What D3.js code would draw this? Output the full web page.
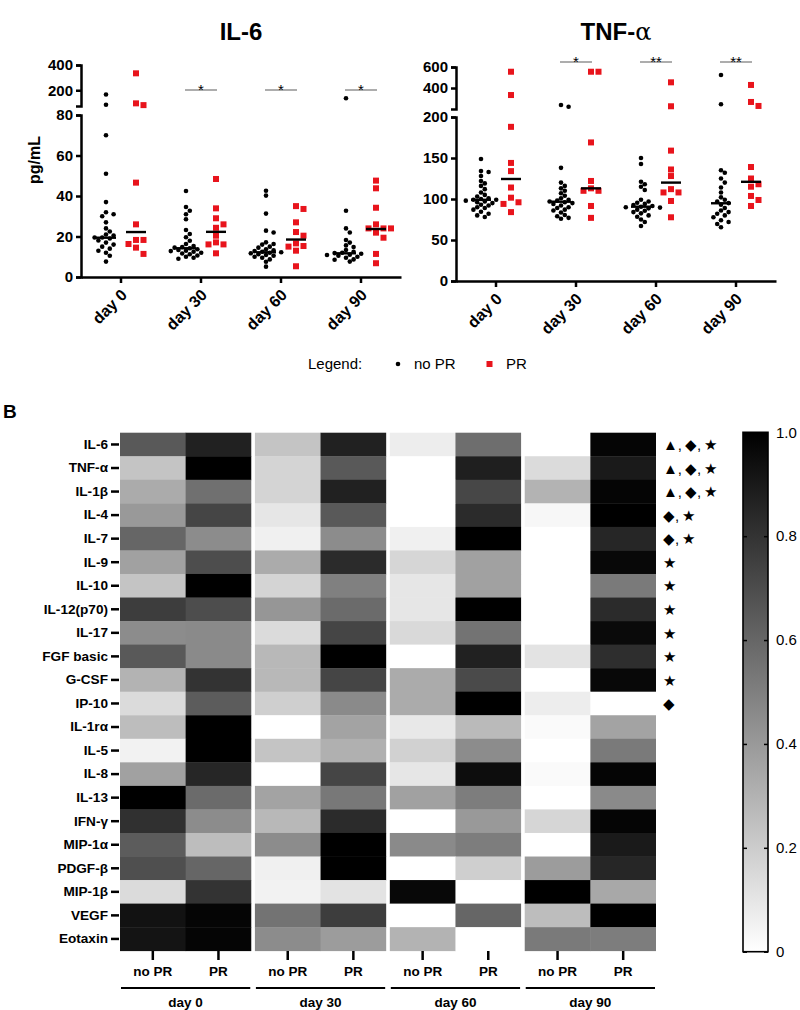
<!DOCTYPE html>
<html><head><meta charset="utf-8">
<script src="https://cdn.jsdelivr.net/npm/d3@7"></script>
<style>body{margin:0;background:#fff} svg{display:block} text{font-family:"Liberation Sans",Arial,sans-serif}</style>
</head><body><svg id="c" width="800" height="1010"></svg>
<script>
// ---------- DATA ----------
const days = ["day 0", "day 30", "day 60", "day 90"];
const groups = ["no PR", "PR"];

// IL-6 (pg/mL)
const il6NoPR = [
  [166, 85, 70, 51, 37, 32, 31, 30, 27, 24, 22.5, 21, 20.5, 19.5, 19.5, 19, 18, 17, 16, 15, 14, 13, 12, 10.5, 7.6],
  [42.5, 34.6, 32.7, 31, 28.5, 23.2, 21.2, 19.6, 17.9, 16.3, 15.3, 14.8, 14.5, 14.2, 13.7, 13.3, 13, 12.8, 12.5, 12, 11.6, 11.2, 10.6, 10, 9.5, 9],
  [42.6, 40.2, 31.3, 22.9, 22, 17.1, 16.3, 16, 15, 14.5, 13.7, 13.2, 12.8, 12.5, 12.2, 12, 11.7, 11.2, 10.9, 10.5, 10, 9.5, 8.7, 7.5, 5.1],
  [136, 32.7, 24, 22, 18.3, 17, 15.6, 14.8, 13.3, 12.5, 12, 11.8, 11.5, 11, 10.9, 10.5, 10, 9.5, 8.7, 8.5, 7.6]
];
const il6PR = [
  [334, 96, 82, 46.6, 26, 18.3, 18.3, 16.3, 14.5, 11.4],
  [48.4, 33.9, 29, 26, 24.3, 20.4, 17.1, 16.1, 16.1, 11.7],
  [35, 33.6, 27, 22.2, 20.4, 16.6, 15.3, 15, 13, 5.3],
  [47.6, 43.8, 34.2, 26, 24, 24, 24, 21.9, 19.4, 11.4, 6.8]
];
const il6MedNoPR = [19.4, 14.2, 12.2, 11.7];
const il6MedPR = [22.2, 22.3, 18.5, 23.7];
const il6Sig = ["", "*", "*", "*"];
const il6LowTicks = [0, 20, 40, 60, 80];
const il6HighTicks = [200, 400];

// TNF-α (pg/mL)
const tnfNoPR = [
  [148.8, 134, 133, 128, 122, 119, 116, 112, 108, 105, 103, 101, 100, 99, 99, 98, 97, 96, 95, 93, 92, 90, 89, 87, 84.5, 82, 80, 78],
  [238, 222, 138, 120, 116, 113, 110, 107, 104, 101, 99, 98, 97, 96, 95, 94, 92, 90, 89, 87, 86, 83.5, 80.5, 79, 77, 76],
  [150, 142.7, 121, 118, 115, 111, 99, 97, 95.5, 94, 92.7, 91.5, 90.6, 90, 89.5, 88.6, 87, 85.7, 84, 82.5, 80, 78.4, 75, 72, 67],
  [524, 245, 135, 132, 125, 120, 114, 108, 102, 99, 97, 95, 93, 89, 86, 84, 82, 80, 77.7, 74, 72, 69.5, 65.5]
];
const tnfPR = [
  [555, 333, 188, 144, 134, 114, 101.6, 96, 94, 84],
  [555, 555, 169, 122, 113, 110, 110, 91.5, 77],
  [454, 226, 159, 136, 128, 112, 108, 108, 97.6, 77.7],
  [429, 267, 229, 139, 125, 118, 115, 103.7, 98.8, 91.5]
];
const tnfMedNoPR = [99, 96.7, 90.6, 94.8];
const tnfMedPR = [124.4, 113, 120, 121];
const tnfSig = ["", "*", "**", "**"];
const tnfLowTicks = [0, 50, 100, 150, 200];
const tnfHighTicks = [400, 600];

// Heatmap (normalised 0..1), columns: d0 noPR, d0 PR, d30 noPR, d30 PR, d60 noPR, d60 PR, d90 noPR, d90 PR
const cytokines = ["IL-6", "TNF-α", "IL-1β", "IL-4", "IL-7", "IL-9", "IL-10", "IL-12(p70)", "IL-17", "FGF basic", "G-CSF", "IP-10",
  "IL-1rα", "IL-5", "IL-8", "IL-13", "IFN-γ", "MIP-1α", "PDGF-β", "MIP-1β", "VEGF", "Eotaxin"];
const heatValues = [
  [0.65, 0.87, 0.23, 0.87, 0.07, 0.57, 0.00, 0.98],
  [0.23, 1.00, 0.17, 0.65, 0.00, 0.88, 0.14, 0.90],
  [0.33, 0.56, 0.17, 0.87, 0.00, 0.72, 0.30, 0.98],
  [0.40, 0.73, 0.10, 0.65, 0.00, 0.83, 0.03, 1.00],
  [0.60, 0.45, 0.06, 0.45, 0.06, 1.00, 0.00, 0.85],
  [0.37, 0.70, 0.33, 0.83, 0.16, 0.37, 0.00, 0.97],
  [0.23, 1.00, 0.17, 0.50, 0.10, 0.37, 0.00, 0.52],
  [0.76, 0.70, 0.41, 0.58, 0.10, 1.00, 0.00, 0.83],
  [0.45, 0.46, 0.14, 0.73, 0.15, 0.55, 0.00, 0.96],
  [0.65, 0.46, 0.28, 1.00, 0.00, 0.87, 0.11, 0.82],
  [0.30, 0.80, 0.28, 0.73, 0.33, 0.71, 0.00, 0.97],
  [0.14, 0.64, 0.19, 0.46, 0.33, 1.00, 0.07, 0.00],
  [0.26, 1.00, 0.00, 0.36, 0.09, 0.27, 0.02, 0.36],
  [0.05, 1.00, 0.23, 0.31, 0.18, 0.45, 0.00, 0.52],
  [0.37, 0.85, 0.00, 0.73, 0.10, 0.95, 0.02, 0.98],
  [1.00, 0.58, 0.36, 0.53, 0.37, 0.51, 0.00, 0.46],
  [0.81, 0.45, 0.28, 0.83, 0.00, 0.40, 0.16, 0.98],
  [0.64, 0.26, 0.45, 1.00, 0.46, 0.51, 0.00, 0.90],
  [0.69, 0.60, 0.06, 1.00, 0.00, 0.19, 0.39, 0.85],
  [0.14, 0.80, 0.05, 0.11, 0.97, 0.00, 1.00, 0.34],
  [0.93, 0.98, 0.55, 0.76, 0.00, 0.60, 0.26, 1.00],
  [0.92, 0.98, 0.45, 0.39, 0.30, 0.00, 0.52, 0.51]
];
const heatMarkers = ["▲,\u2009◆,\u2009★", "▲,\u2009◆,\u2009★", "▲,\u2009◆,\u2009★", "◆,\u2009★", "◆,\u2009★", "★", "★", "★", "★", "★", "★", "◆",
  "", "", "", "", "", "", "", "", "", ""];
const colorbarTicks = [0, 0.2, 0.4, 0.6, 0.8, 1.0];

// ---------- DRAW ----------
const svg = d3.select("#c");
const RED = "#e8141c";
const FONT = '"Liberation Sans", Arial, sans-serif';

function beeswarm(vals, yf, cx, minDist, step) {
  const pts = vals.map(v => ({ v, y: yf(v) })).sort((a, b) => a.y - b.y);
  const placed = [];
  for (const p of pts) {
    for (let k = 0; k < 60; k++) {
      const off = k === 0 ? 0 : (k % 2 ? 1 : -1) * Math.ceil(k / 2) * step;
      const x = cx + off;
      if (placed.every(q => Math.hypot(q.x - x, q.y - p.y) >= minDist)) { p.x = x; break; }
    }
    placed.push(p);
  }
  return placed;
}

function styleAxis(sel, size) {
  sel.selectAll("path,line").attr("stroke", "#000").attr("stroke-width", 2.5);
  sel.selectAll("text").attr("fill", "#000").attr("font-size", size).attr("font-weight", "bold")
    .attr("font-family", FONT);
}

function panel(cfg) {
  const g = svg.append("g");
  const x = d3.scaleBand(days, [cfg.x0, cfg.x0 + 320]);
  const yLo = d3.scaleLinear(cfg.loDomain, [cfg.yBase, cfg.loTop]);
  const yHi = d3.scaleLinear(cfg.hiDomain, [cfg.hiBottom, cfg.hiTop]);
  const yf = v => v > cfg.loDomain[1] ? yHi(v) : yLo(v);

  const t = g.append("text").attr("x", cfg.x0 + 160).attr("y", 40).attr("text-anchor", "middle")
    .attr("font-size", 24).attr("font-weight", "bold");
  t.append("tspan").text(cfg.title);
  if (cfg.titleSuffix) t.append("tspan").attr("font-weight", "normal").attr("font-family", '"DejaVu Serif", serif').text(cfg.titleSuffix);

  const a1 = g.append("g").attr("transform", `translate(${cfg.x0},0)`)
    .call(d3.axisLeft(yLo).tickValues(cfg.loTicks).tickSize(5).tickSizeOuter(5).tickPadding(3));
  styleAxis(a1, 15);
  const a2 = g.append("g").attr("transform", `translate(${cfg.x0},0)`)
    .call(d3.axisLeft(yHi).tickValues(cfg.hiTicks).tickSize(5).tickSizeOuter(5).tickPadding(3));
  styleAxis(a2, 15);
  const ax = g.append("g").attr("transform", `translate(0,${cfg.yBase})`)
    .call(d3.axisBottom(x).tickSize(6).tickSizeOuter(0));
  styleAxis(ax, 16);
  ax.selectAll("text").attr("x", 0).attr("y", 0).attr("dy", "0.35em").attr("text-anchor", "end")
    .attr("transform", "translate(3,15) rotate(-45)");

  days.forEach((d, i) => {
    const cN = x(d) + x.bandwidth() / 2 - 15;
    const cP = x(d) + x.bandwidth() / 2 + 15;
    beeswarm(cfg.noPR[i], yf, cN, 4.4, 3.8).forEach(p => {
      g.append("circle").attr("cx", p.x).attr("cy", p.y).attr("r", 2.3).attr("fill", "#000");
    });
    beeswarm(cfg.pr[i], yf, cP, 6.4, 7.5).forEach(p => {
      g.append("rect").attr("x", p.x - 3).attr("y", p.y - 3).attr("width", 6).attr("height", 6).attr("fill", RED);
    });
    g.append("line").attr("x1", cN - 10).attr("x2", cN + 10).attr("y1", yf(cfg.medNoPR[i])).attr("y2", yf(cfg.medNoPR[i]))
      .attr("stroke", "#000").attr("stroke-width", 2.4);
    g.append("line").attr("x1", cP - 10).attr("x2", cP + 10).attr("y1", yf(cfg.medPR[i])).attr("y2", yf(cfg.medPR[i]))
      .attr("stroke", "#000").attr("stroke-width", 2.4);
    if (cfg.sig[i]) {
      g.append("line").attr("x1", cN - 1).attr("x2", cP + 1).attr("y1", cfg.sigY).attr("y2", cfg.sigY)
        .attr("stroke", "#808080").attr("stroke-width", 1.3);
      g.append("text").attr("x", (cN + cP) / 2).attr("y", cfg.sigY + 5).attr("text-anchor", "middle")
        .attr("font-size", 15).text(cfg.sig[i]);
    }
  });
}

panel({ title: "IL-6", x0: 81, yBase: 277, loTop: 115, loDomain: [0, 80], hiDomain: [75, 400], hiBottom: 106, hiTop: 65,
  loTicks: il6LowTicks, hiTicks: il6HighTicks, noPR: il6NoPR, pr: il6PR, medNoPR: il6MedNoPR, medPR: il6MedPR, sig: il6Sig, sigY: 90 });
panel({ title: "TNF-", titleSuffix: "α", x0: 456, yBase: 281, loTop: 117, loDomain: [0, 200], hiDomain: [200, 600], hiBottom: 109, hiTop: 67,
  loTicks: tnfLowTicks, hiTicks: tnfHighTicks, noPR: tnfNoPR, pr: tnfPR, medNoPR: tnfMedNoPR, medPR: tnfMedPR, sig: tnfSig, sigY: 62 });

svg.append("text").attr("transform", "translate(40,160) rotate(-90)").attr("text-anchor", "middle")
  .attr("font-size", 16).attr("font-weight", "bold").text("pg/mL");

// legend
svg.append("text").attr("x", 308).attr("y", 369).attr("font-size", 15).text("Legend:");
svg.append("circle").attr("cx", 398).attr("cy", 364).attr("r", 2.3).attr("fill", "#000");
svg.append("text").attr("x", 414).attr("y", 369).attr("font-size", 15).text(groups[0]);
svg.append("rect").attr("x", 486.5).attr("y", 361).attr("width", 6).attr("height", 6).attr("fill", RED);
svg.append("text").attr("x", 506).attr("y", 369).attr("font-size", 15).text(groups[1]);

svg.append("text").attr("x", 3).attr("y", 418).attr("font-size", 19).attr("font-weight", "bold").text("B");

// heatmap
const hx = d3.scaleBand(days, [120, 656]).paddingInner(0.027);
const hsub = d3.scaleBand(groups, [0, hx.bandwidth()]);
const hy = d3.scaleBand(cytokines, [432.7, 950.7]);
const gray = d3.scaleLinear([0, 1], ["#ffffff", "#000000"]);
const hm = svg.append("g");
cytokines.forEach((c, r) => {
  heatValues[r].forEach((v, j) => {
    const d = days[Math.floor(j / 2)], gr = groups[j % 2];
    hm.append("rect").attr("x", hx(d) + hsub(gr)).attr("y", hy(c))
      .attr("width", hsub.bandwidth() + (j % 2 === 0 ? 0.5 : 0)).attr("height", hy.bandwidth() + 0.4)
      .attr("fill", gray(v));
  });
  if (heatMarkers[r]) {
    hm.append("text").attr("x", 663).attr("y", hy(c) + hy.bandwidth() / 2).attr("dy", "0.38em")
      .attr("font-size", 15).attr("font-family", '"DejaVu Sans", sans-serif').text(heatMarkers[r]);
  }
});
const hl = svg.append("g").attr("transform", "translate(119,0)").call(d3.axisLeft(hy).tickSize(8).tickPadding(3));
hl.select(".domain").remove();
styleAxis(hl, 13.6);

days.forEach(d => {
  const gb = svg.append("g").attr("transform", `translate(${hx(d)},951)`).call(d3.axisBottom(hsub).tickSize(9).tickPadding(6));
  gb.select(".domain").remove();
  styleAxis(gb, 13.5);
  svg.append("line").attr("x1", hx(d) + 1).attr("x2", hx(d) + hx.bandwidth() - 1).attr("y1", 988).attr("y2", 988)
    .attr("stroke", "#000").attr("stroke-width", 2);
  svg.append("text").attr("x", hx(d) + hx.bandwidth() / 2).attr("y", 1007).attr("text-anchor", "middle")
    .attr("font-size", 13.5).attr("font-weight", "bold").text(d);
});

// colorbar
const defs = svg.append("defs");
const lg = defs.append("linearGradient").attr("id", "cbg").attr("x1", 0).attr("y1", 1).attr("x2", 0).attr("y2", 0);
lg.append("stop").attr("offset", "0%").attr("stop-color", gray(0));
lg.append("stop").attr("offset", "100%").attr("stop-color", gray(1));
const cb = d3.scaleLinear([0, 1], [951.7, 432.3]);
svg.append("rect").attr("x", 743).attr("y", cb(1)).attr("width", 25).attr("height", cb(0) - cb(1))
  .attr("fill", "url(#cbg)").attr("stroke", "#000").attr("stroke-width", 1.6);
const cbr = svg.append("g").attr("transform", "translate(768,0)")
  .call(d3.axisRight(cb).tickValues(colorbarTicks).tickSize(-4).tickPadding(8).tickFormat(d => d === 0 ? "0" : d.toFixed(1)));
cbr.select(".domain").remove();
cbr.selectAll("line").attr("stroke", "#000").attr("stroke-width", 1.5);
cbr.selectAll("text").attr("font-size", 15).attr("fill", "#000").attr("font-family", FONT);
const cbl = svg.append("g").attr("transform", "translate(743,0)")
  .call(d3.axisLeft(cb).tickValues(colorbarTicks).tickSize(-4).tickFormat(""));
cbl.select(".domain").remove();
cbl.selectAll("line").attr("stroke", "#000").attr("stroke-width", 1.5);
</script></body></html>
